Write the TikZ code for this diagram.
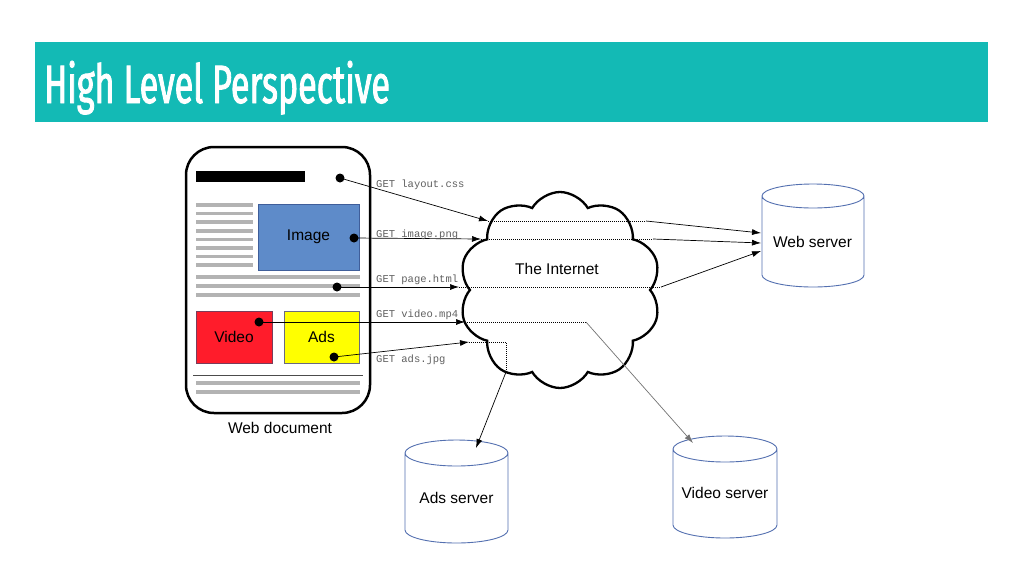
\documentclass[tikz,border=0pt]{standalone}
\usepackage{fontspec}
\setmainfont{Liberation Sans}
\newfontfamily\getfont{Liberation Mono}
\newfontfamily\titlefont[FakeStretch=0.63,FakeBold=1.6]{Fira Sans}
\usetikzlibrary{shapes.symbols,arrows.meta}

\definecolor{bannerteal}{HTML}{13BAB5}
\definecolor{imgblue}{HTML}{5E8BC9}
\definecolor{imgedge}{HTML}{3F5E9A}
\definecolor{vidred}{HTML}{FF1C2B}
\definecolor{videdge}{HTML}{7A3C5A}
\definecolor{adsyellow}{HTML}{FFFF00}
\definecolor{adsedge}{HTML}{6A6A80}
\definecolor{textgray}{HTML}{B3B3B3}
\definecolor{srvblue}{HTML}{5470B0}
\definecolor{getgray}{HTML}{606060}

\tikzset{
  lbl/.style={font=\fontsize{15.5}{18}\selectfont, inner sep=0pt},
  getlbl/.style={font=\getfont\fontsize{10.5}{12}\selectfont, text=getgray, inner sep=0pt, anchor=base west},
  dot/.style={circle, fill=black, minimum size=9pt, inner sep=0pt},
  req/.style={line width=0.7pt, -{Latex[length=9pt,width=6pt]}},
  via/.style={line width=0.6pt, dash pattern=on 0.9pt off 1.1pt},
  gline/.style={line width=3.5pt, textgray},
  srvline/.style={line width=0.9pt, srvblue},
  block/.style={line width=0.8pt, inner sep=0pt},
}

\begin{document}
\begin{tikzpicture}[x=1pt,y=1pt]
\useasboundingbox (0,0) rectangle (1024,-576);
\fill[white] (0,0) rectangle (1024,-576);

% title banner
\fill[bannerteal] (35,-42) rectangle (988,-122);
\node[anchor=base west, inner sep=0pt, text=white,
      font=\titlefont\fontsize{54}{60}\selectfont] (title) at (44,-103) {High Level Perspective};

% ---- web document ----
\node[draw, line width=2.5pt, rounded corners=28pt, minimum width=184pt,
      minimum height=266pt, inner sep=0pt] (doc) at (278,-280) {};
\node[fill=black, minimum width=109pt, minimum height=11pt, inner sep=0pt] (bar) at (250.5,-176.5) {};
\foreach \y in {205,213.6,222.2,230.8,239.4,248,256.6,265.2}
  \draw[gline] (196,-\y) -- (253,-\y);
\foreach \y in {277,286,295,383,392}
  \draw[gline] (196,-\y) -- (360,-\y);
\draw[line width=1pt, black!70] (193,-375) -- (363,-375);

\node[block, draw=imgedge, fill=imgblue, minimum width=101pt, minimum height=66pt, lbl] (img) at (308.5,-237) {Image};
\node[block, draw=videdge, fill=vidred, minimum width=76pt, minimum height=52pt, lbl] (vid) at (234,-337) {Video};
\node[block, draw=adsedge, fill=adsyellow, minimum width=75pt, minimum height=52pt, lbl] (ads) at (321.5,-337) {Ads};
\node[lbl] (doclbl) at (280,-428) {Web document};

% ---- the internet ----
\node[cloud, draw, line width=2.3pt, fill=white, cloud puffs=10, cloud puff arc=120,
      aspect=1.03, minimum width=202pt, minimum height=196pt, inner sep=0pt] (net) at (560,-290) {};
\node[lbl] (netlbl) at (557,-269) {The Internet};

% ---- servers ----
\node[lbl] (ws) at (812.5,-242) {Web server};
\draw[srvline] (762,-196) -- (762,-275) arc[start angle=180,end angle=360,x radius=51,y radius=12]
  -- (864,-196) arc[start angle=0,end angle=180,x radius=51,y radius=12]
  arc[start angle=180,end angle=360,x radius=51,y radius=12];
\node[lbl] (as) at (456.5,-498) {Ads server};
\draw[srvline] (405,-453) -- (405,-530) arc[start angle=180,end angle=360,x radius=51.5,y radius=13]
  -- (508,-453) arc[start angle=0,end angle=180,x radius=51.5,y radius=13]
  arc[start angle=180,end angle=360,x radius=51.5,y radius=13];
\node[lbl] (vs) at (725,-493) {Video server};
\draw[srvline] (673,-449) -- (673,-525) arc[start angle=180,end angle=360,x radius=52,y radius=13]
  -- (777,-449) arc[start angle=0,end angle=180,x radius=52,y radius=13]
  arc[start angle=180,end angle=360,x radius=52,y radius=13];

% request start points
\node[dot] (d1) at (340,-178) {};
\node[dot] (d2) at (354,-238) {};
\node[dot] (d3) at (337,-287) {};
\node[dot] (d4) at (259,-322) {};
\node[dot] (d5) at (334,-357) {};

% entry / exit points on the cloud and targets on the servers
\coordinate (e1) at (488,-221);  \coordinate (x1) at (646,-221);  \coordinate (t1) at (761,-233);
\coordinate (e2) at (481,-239);  \coordinate (x2) at (653,-239);  \coordinate (t2) at (761,-243);
\coordinate (e3) at (459,-287);  \coordinate (x3) at (661,-287);  \coordinate (t3) at (761,-251);
\coordinate (e4) at (465,-322);  \coordinate (x4) at (586,-322);  \coordinate (t4) at (693,-443);
\coordinate (e5) at (469,-342);  \coordinate (k5) at (506,-342);  \coordinate (x5) at (506,-372);
\coordinate (t5) at (476,-448);

% requests into the cloud
\draw[req] (d1.center) -- (e1);
\draw[req] (d2.center) -- (e2);
\draw[req] (d3.center) -- (e3);
\draw[req] (d4.center) -- (e4);
\draw[req] (d5.center) -- (e5);

% routes through the cloud
\draw[via] (e1) -- (x1);
\draw[via] (e2) -- (x2);
\draw[via] (e3) -- (x3);
\draw[via] (e4) -- (x4);
\draw[via] (e5) -- (k5) -- (x5);

% on to the servers
\draw[req] (x1) -- (t1);
\draw[req] (x2) -- (t2);
\draw[req] (x3) -- (t3);
\draw[req, black!55] (x4) -- (t4);
\draw[req] (x5) -- (t5);

% request labels
\node[getlbl] (g1) at (376,-187) {GET layout.css};
\node[getlbl] (g2) at (376,-237) {GET image.png};
\node[getlbl] (g3) at (376,-282) {GET page.html};
\node[getlbl] (g4) at (376,-317) {GET video.mp4};
\node[getlbl] (g5) at (376,-362) {GET ads.jpg};
\end{tikzpicture}
\end{document}
